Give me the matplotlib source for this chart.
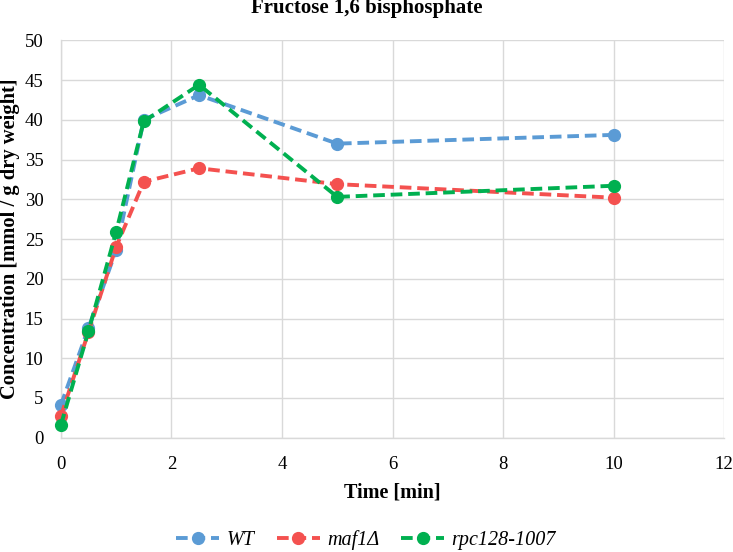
import matplotlib
matplotlib.use("Agg")
import matplotlib.pyplot as plt

time_min = [0, 0.5, 1, 1.5, 2.5, 5, 10]
wt = [4.1, 13.8, 23.6, 40.0, 43.1, 37.0, 38.1]
maf1 = [2.7, 13.3, 24.0, 32.2, 33.9, 31.9, 30.2]
rpc128 = [1.6, 13.4, 25.9, 39.8, 44.4, 30.3, 31.7]
series_names = ["WT", "maf1Δ", "rpc128-1007"]
colors = ["#5B9BD5", "#F4514F", "#00B050"]

plt.rcParams['font.family'] = ['Liberation Serif', 'DejaVu Serif']

fig = plt.figure(figsize=(7.33, 5.52), dpi=100)
ax = fig.add_axes([0.083, 0.207, 0.905, 0.72])

for vals, name, c in zip([wt, maf1, rpc128], series_names, colors):
    ax.plot(time_min, vals, color=c, lw=2.8, ls=(0, (3, 1.5)), marker='o',
            markersize=8.5, label=name, clip_on=False, zorder=3)

ax.set_xlim(0, 12)
ax.set_ylim(0, 50)
ax.set_xticks(range(0, 13, 2))
ax.set_yticks(range(0, 51, 5))
ax.grid(True, color='#D9D9D9', lw=1)
ax.set_axisbelow(True)
for s in ['top', 'right']:
    ax.spines[s].set_visible(False)
for s in ['left', 'bottom']:
    ax.spines[s].set_color('#D9D9D9')
    ax.spines[s].set_linewidth(1)
ax.tick_params(axis='x', length=0, labelsize=13.5, pad=13)
ax.tick_params(axis='y', length=0, labelsize=13.5, pad=12.5)
ax.set_xlabel("Time [min]", fontsize=14.5, fontweight='bold', labelpad=7)
ax.set_ylabel("Concentration [mmol / g dry weight]", fontsize=14.8, fontweight='bold', labelpad=3.5)
fig.text(0.5, 1 - 13.5 / 552, "Fructose 1,6 bisphosphate", ha='center', va='baseline',
         fontsize=15, fontweight='bold')

leg = fig.legend(loc='center', bbox_to_anchor=(0.4995, 1 - 540 / 552), ncol=3, frameon=False,
                 prop={'style': 'italic', 'size': 14.5}, handlelength=2.14, columnspacing=1.1,
                 handletextpad=0.35)

fig.savefig("out.png", dpi=100)
